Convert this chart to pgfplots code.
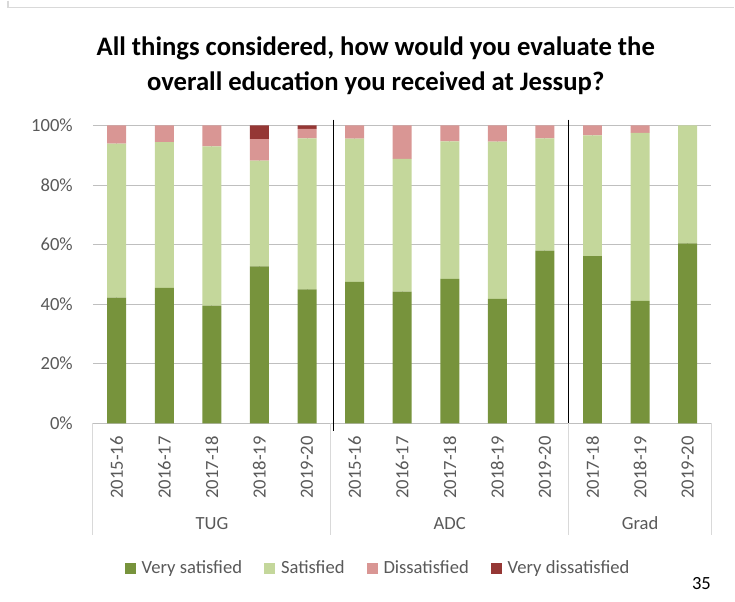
\documentclass[border=0pt]{standalone}
\usepackage{pgfplots}
\pgfplotsset{compat=1.18}
\usepackage{fontspec}
\setmainfont{Carlito}
\definecolor{vs}{HTML}{77933C}
\definecolor{sa}{HTML}{C4D79B}
\definecolor{di}{HTML}{D99694}
\definecolor{vd}{HTML}{953735}
\definecolor{txt}{HTML}{595959}
\definecolor{grid}{HTML}{D9D9D9}
\begin{document}
\begin{tikzpicture}[x=1bp,y=1bp]
\path (0,0) rectangle (735,601);
\draw[grid, line width=1.2bp] (8,601) -- (8,594) -- (735,594);
\node[font=\fontsize{26.7bp}{35bp}\selectfont\bfseries, align=center] at (376,536) {All things considered, how would you evaluate the\\overall education you received at Jessup?};
\node[font=\fontsize{18.6bp}{22bp}\selectfont] at (702,18) {35};
\begin{axis}[
  at={(93bp,178bp)}, anchor=south west,
  scale only axis, width=619bp, height=298bp,
  ybar stacked, bar width=19bp,
  xmin=-0.5, xmax=12.5, ymin=0, ymax=100,
  clip=false,
  axis line style={draw=none},
  major tick length=0pt,
  ymajorgrids, grid style={grid, line width=1bp},
  ytick={0,20,40,60,80,100},
  yticklabel={\pgfmathprintnumber{\tick}\%},
  yticklabel style={font=\fontsize{18.6bp}{22bp}\selectfont, text=txt, inner sep=0pt, anchor=east, xshift=-20bp},
  xtick={0,...,12},
  xticklabels={2015-16,2016-17,2017-18,2018-19,2019-20,2015-16,2016-17,2017-18,2018-19,2019-20,2017-18,2018-19,2019-20},
  xticklabel style={font=\fontsize{18.6bp}{22bp}\selectfont, text=txt, rotate=90, anchor=east, inner sep=0pt},
  xticklabel shift=13bp,
  /pgf/number format/assume math mode=true,
  legend columns=4,
  legend style={draw=none, at={(0.461,-0.487)}, anchor=center, font=\fontsize{18.6bp}{22bp}\selectfont, text=txt,
    /tikz/every odd column/.append style={column sep=4bp},
    /tikz/every even column/.append style={column sep=20bp}, inner sep=0pt},
  legend image code/.code={\fill[#1] (0bp,-5.5bp) rectangle (11bp,5.5bp);},
]
\addplot[fill=vs, draw=none] coordinates {(0,42.2) (1,45.5) (2,39.5) (3,52.7) (4,45.0) (5,47.5) (6,44.2) (7,48.5) (8,41.8) (9,58.0) (10,56.1) (11,41.1) (12,60.4)};
\addplot[fill=sa, draw=none] coordinates {(0,51.7) (1,48.9) (2,53.5) (3,35.5) (4,50.7) (5,48.1) (6,44.6) (7,46.2) (8,52.8) (9,37.7) (10,40.6) (11,56.4) (12,39.6)};
\addplot[fill=di, draw=none] coordinates {(0,6.1) (1,5.6) (2,7.0) (3,7.2) (4,3.2) (5,4.4) (6,11.2) (7,5.3) (8,5.4) (9,4.3) (10,3.3) (11,2.5) (12,0)};
\addplot[fill=vd, draw=none] coordinates {(0,0) (1,0) (2,0) (3,4.6) (4,1.1) (5,0) (6,0) (7,0) (8,0) (9,0) (10,0) (11,0) (12,0)};
\legend{Very satisfied,Satisfied,Dissatisfied,Very dissatisfied}
\draw[grid, line width=1bp] (axis cs:-0.5,0) -- (axis cs:-0.5,-37.6);
\draw[grid, line width=1bp] (axis cs:4.5,0) -- (axis cs:4.5,-37.6);
\draw[grid, line width=1bp] (axis cs:9.5,0) -- (axis cs:9.5,-37.6);
\draw[grid, line width=1bp] (axis cs:12.5,0) -- (axis cs:12.5,-37.6);
\draw[black, line width=1.3bp] (axis cs:4.55,102) -- (axis cs:4.55,-2.5);
\draw[black, line width=1.3bp] (axis cs:9.5,102) -- (axis cs:9.5,-2.5);
\node[font=\fontsize{18.6bp}{22bp}\selectfont, text=txt] at (axis cs:2,-33.6) {TUG};
\node[font=\fontsize{18.6bp}{22bp}\selectfont, text=txt] at (axis cs:7,-33.6) {ADC};
\node[font=\fontsize{18.6bp}{22bp}\selectfont, text=txt] at (axis cs:11,-33.6) {Grad};
\end{axis}
\end{tikzpicture}
\end{document}
